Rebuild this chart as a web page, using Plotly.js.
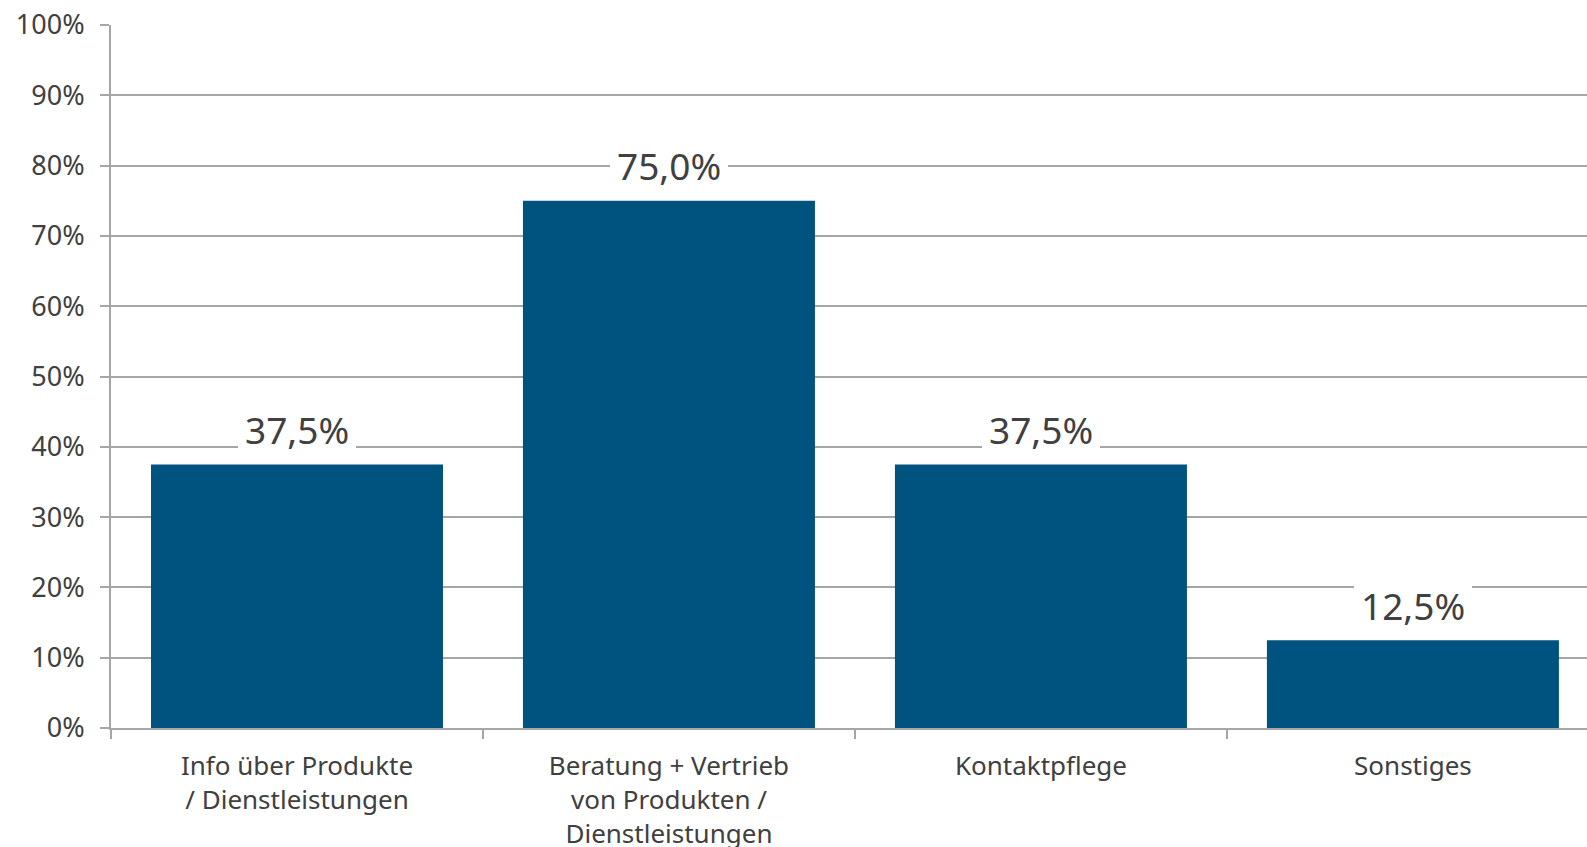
<!DOCTYPE html>
<html>
<head>
<meta charset="utf-8">
<script src="https://cdn.plot.ly/plotly-3.0.1.min.js"></script>
<style>
html,body{margin:0;padding:0;background:#fff;}
#chart{width:1587px;height:847px;}
</style>
</head>
<body>
<div id="chart"></div>
<script>
const categories = [
  "Info über Produkte<br>/ Dienstleistungen",
  "Beratung + Vertrieb<br>von Produkten /<br>Dienstleistungen",
  "Kontaktpflege",
  "Sonstiges"
];
const values = [37.5, 75.0, 37.5, 12.5];
const yTickVals = [0, 10, 20, 30, 40, 50, 60, 70, 80, 90, 100];

const FONT = "Noto Sans, DejaVu Sans, sans-serif";
const TXT = "#404040";
const GRID = "#a6a6a6";
const BAR = "#00537e";

const labels = values.map(v => v.toFixed(1).replace('.', ',') + '%');

const trace = {
  type: 'bar',
  x: categories,
  y: values,
  marker: {color: BAR, line: {width: 0}},
  hoverinfo: 'none'
};

const annotations = categories.map((c, i) => ({
  x: c,
  y: values[i],
  xref: 'x',
  yref: 'y',
  text: labels[i],
  showarrow: false,
  yanchor: 'middle',
  yshift: 35,
  bgcolor: '#ffffff',
  borderpad: 7,
  borderwidth: 0,
  font: {family: FONT, size: 37, color: TXT}
}));

const layout = {
  width: 1587,
  height: 847,
  margin: {l: 111, r: 0, t: 25, b: 119, pad: 0},
  paper_bgcolor: '#ffffff',
  plot_bgcolor: '#ffffff',
  showlegend: false,
  bargap: 0.215,
  font: {family: FONT, color: TXT},
  xaxis: {
    type: 'category',
    range: [-0.5, 3.468],
    tickson: 'boundaries',
    ticks: 'outside',
    ticklen: 9,
    tickwidth: 2,
    tickcolor: GRID,
    showline: true,
    linecolor: GRID,
    linewidth: 2,
    showgrid: false,
    zeroline: false,
    tickfont: {family: FONT, size: 26, color: TXT},
    ticklabelstandoff: 14,
    fixedrange: true
  },
  yaxis: {
    range: [0, 100],
    tickvals: yTickVals,
    ticktext: yTickVals.map(v => v + '%'),
    ticks: 'outside',
    ticklen: 9,
    tickwidth: 2,
    tickcolor: GRID,
    showline: true,
    linecolor: GRID,
    linewidth: 2,
    showgrid: true,
    gridcolor: GRID,
    gridwidth: 2,
    zeroline: false,
    tickfont: {family: FONT, size: 27, color: TXT},
    ticklabelstandoff: 10,
    fixedrange: true
  },
  annotations: annotations
};

Plotly.newPlot('chart', [trace], layout, {displayModeBar: false, staticPlot: true});
</script>
</body>
</html>
